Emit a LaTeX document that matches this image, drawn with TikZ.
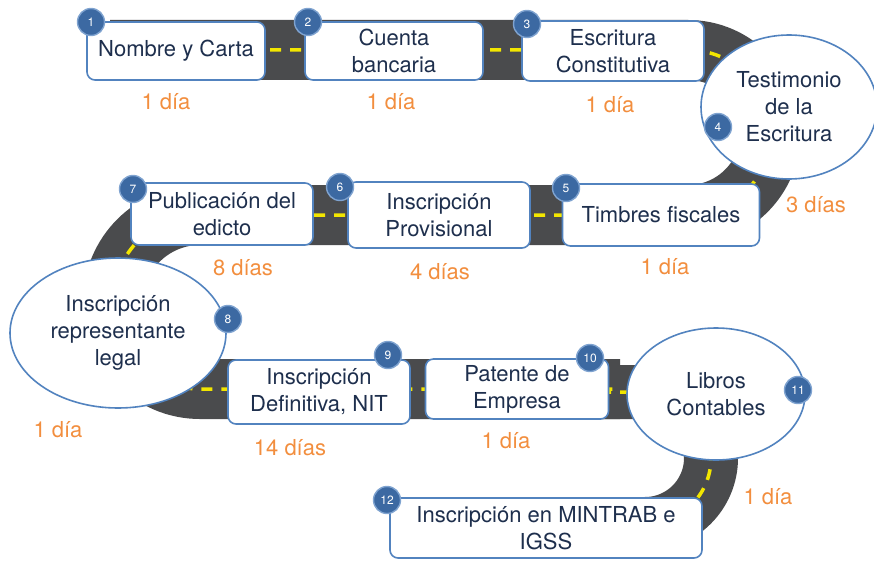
\documentclass[tikz,border=0pt]{standalone}
\usepackage{fontspec}
\setmainfont{TeX Gyre Heros}
\usetikzlibrary{shapes.geometric}
\definecolor{roadgray}{HTML}{4A4B4D}
\definecolor{lineyellow}{HTML}{F2E600}
\definecolor{boxblue}{HTML}{5283BF}
\definecolor{navy}{HTML}{1E2F4D}
\definecolor{dayorange}{HTML}{F28E3E}
\definecolor{numfill}{HTML}{3C69A2}
\definecolor{numring}{HTML}{7FA3D0}
\tikzset{
  stepbox/.style={draw=boxblue, line width=1.6pt, fill=white, rounded corners=8pt,
    align=center, text=navy, font=\fontsize{22}{27}\selectfont, inner sep=0pt},
  stepell/.style={ellipse, draw=boxblue, line width=1.6pt, fill=white,
    align=center, text=navy, font=\fontsize{22}{27}\selectfont, inner sep=0pt},
  numdot/.style={circle, fill=numfill, draw=numring, line width=1.4pt,
    minimum size=27pt, inner sep=0pt, text=white, font=\fontsize{12}{12}\selectfont},
  days/.style={text=dayorange, font=\fontsize{22}{22}\selectfont, inner sep=0pt},
  roadbed/.style={line width=60pt, roadgray},
  roadline/.style={line width=3.5pt, lineyellow, dash pattern=on 11pt off 9pt}
}
\begin{document}
\begin{tikzpicture}[x=1pt,y=1pt]
\useasboundingbox (0,0) rectangle (874,-567);
% road waypoints
\coordinate (r0) at (110,-50);
\coordinate (r1) at (688,-50);
\coordinate (r2) at (200,-215);
\coordinate (r3) at (620,-389);
\coordinate (r4) at (600,-392);
\coordinate (r5) at (645,-392);
\coordinate (r6) at (560,-524);
% road
\draw[roadbed] (r0) -- (r1) arc(90:-90:82.5) -- (r2) arc(90:270:87) -- (r3);
\draw[roadbed, line width=54pt] (r4) -- (r5) arc(90:-90:66) -- (r6);
\draw[roadline] (r0) -- (r1) arc(90:-90:82.5) -- (r2) arc(90:270:87) -- (r3);
\draw[roadline] (r4) -- (r5) arc(90:-90:66) -- (r6);
% row 1
\node[stepbox, minimum width=178pt, minimum height=58pt] (b1) at (176,-51) {Nombre y Carta};
\node[stepbox, minimum width=178pt, minimum height=58pt] (b2) at (394,-51) {Cuenta\\bancaria};
\node[stepbox, minimum width=182pt, minimum height=60pt] (b3) at (613,-51) {Escritura\\Constitutiva};
\node[stepell, minimum width=176pt, minimum height=144pt] (b4) at (789,-107) {Testimonio\\de la\\Escritura};
% row 2
\node[stepbox, minimum width=197pt, minimum height=62pt] (b5) at (661,-215) {Timbres fiscales};
\node[stepbox, minimum width=182pt, minimum height=66pt] (b6) at (439,-215) {Inscripción\\Provisional};
\node[stepbox, minimum width=182pt, minimum height=62pt] (b7) at (222,-214) {Publicación del\\edicto};
\node[stepell, minimum width=216pt, minimum height=150pt] (b8) at (118,-333) {Inscripción\\representante\\legal};
% row 3
\node[stepbox, minimum width=182pt, minimum height=64pt] (b9) at (319,-392) {Inscripción\\Definitiva, NIT};
\node[stepbox, minimum width=183pt, minimum height=60pt] (b10) at (517,-389) {Patente de\\Empresa};
\node[stepell, minimum width=178pt, minimum height=132pt] (b11) at (716,-394) {Libros\\Contables};
% row 4
\node[stepbox, minimum width=312pt, minimum height=60pt] (b12) at (546,-528) {Inscripción en MINTRAB e\\IGSS};
% numbers
\node[numdot] (n1) at (91,-22) {1};
\node[numdot] (n2) at (308,-22) {2};
\node[numdot] (n3) at (527,-24) {3};
\node[numdot] (n4) at (718,-127) {4};
\node[numdot] (n5) at (566,-188) {5};
\node[numdot] (n6) at (340,-187) {6};
\node[numdot] (n7) at (133,-189) {7};
\node[numdot] (n8) at (228,-319) {8};
\node[numdot] (n9) at (388,-355) {9};
\node[numdot] (n10) at (590,-358) {10};
\node[numdot] (n11) at (798,-390) {11};
\node[numdot] (n12) at (387,-500) {12};
% durations
\node[days] (d1) at (166,-102) {1 día};
\node[days] (d2) at (391,-102) {1 día};
\node[days] (d3) at (610,-105) {1 día};
\node[days] (d4) at (816,-205) {3 días};
\node[days] (d5) at (665,-267) {1 día};
\node[days] (d6) at (440,-272) {4 días};
\node[days] (d7) at (243,-268) {8 días};
\node[days] (d8) at (58,-430) {1 día};
\node[days] (d9) at (290,-448) {14 días};
\node[days] (d10) at (506,-441) {1 día};
\node[days] (d11) at (768,-497) {1 día};
\end{tikzpicture}
\end{document}
